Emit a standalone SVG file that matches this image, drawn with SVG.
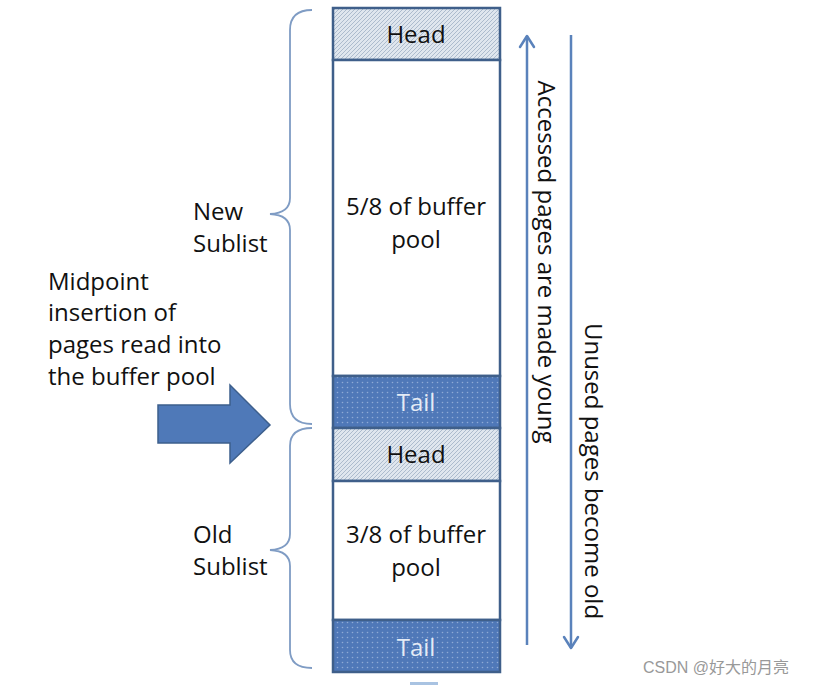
<svg xmlns="http://www.w3.org/2000/svg" width="830" height="685" viewBox="0 0 830 685">
<defs>
<pattern id="hatch" width="4" height="4" patternUnits="userSpaceOnUse">
<rect width="4" height="4" fill="#dfe6ee"/>
<path d="M-1,1 L1,-1 M0,4 L4,0 M3,5 L5,3" stroke="#9fb0c4" stroke-width="0.8"/>
</pattern>
<pattern id="dots" width="5" height="5" patternUnits="userSpaceOnUse">
<rect width="5" height="5" fill="#4f78b8"/>
<circle cx="2.5" cy="2.5" r="0.8" fill="#8eaad6"/>
</pattern>
<style>
.t{font-family:"Open Sans","Liberation Sans",sans-serif;font-size:24px;fill:#111}
.c{text-anchor:middle}
.w{fill:#e4ebf5}
.box{stroke:#3f5f8a;stroke-width:2.5}
.brace{fill:none;stroke:#7f9cc4;stroke-width:1.8}
.line{stroke:#5a82bb;stroke-width:2.5;fill:none}
.head{stroke:#5a82bb;stroke-width:2.5;fill:none;stroke-linecap:round;stroke-linejoin:round}
</style>
</defs>
<rect width="830" height="685" fill="#fff"/>
<g id="column">
<g id="head1"><rect class="box" x="333" y="8" width="167" height="52" fill="url(#hatch)"/><text class="t c" x="416" y="43">Head</text></g>
<g id="new-body"><rect class="box" x="333" y="60" width="167" height="316" fill="#fff"/><text class="t c" x="416" y="215">5/8 of buffer</text><text class="t c" x="416" y="248">pool</text></g>
<g id="tail1"><rect class="box" x="333" y="376" width="167" height="52" fill="url(#dots)"/><text class="t c w" x="416" y="411">Tail</text></g>
<g id="head2"><rect class="box" x="333" y="428" width="167" height="53" fill="url(#hatch)"/><text class="t c" x="416" y="463">Head</text></g>
<g id="old-body"><rect class="box" x="333" y="481" width="167" height="139" fill="#fff"/><text class="t c" x="416" y="543">3/8 of buffer</text><text class="t c" x="416" y="576">pool</text></g>
<g id="tail2"><rect class="box" x="333" y="620" width="167" height="52" fill="url(#dots)"/><text class="t c w" x="416" y="656">Tail</text></g>
</g>
<g id="new-sublist">
<path class="brace" d="M312,10 Q290,10 290,30 L290,198 Q290,213 270,214 Q290,215 290,230 L290,404 Q290,424 312,424"/>
<text class="t" x="193" y="220">New</text><text class="t" x="193" y="252">Sublist</text>
</g>
<g id="old-sublist">
<path class="brace" d="M312,428 Q290,428 290,446 L290,534 Q290,549 270,550 Q290,551 290,566 L290,650 Q290,668 312,668"/>
<text class="t" x="193" y="543">Old</text><text class="t" x="193" y="575">Sublist</text>
</g>
<g id="midpoint">
<text class="t" x="48" y="290">Midpoint</text>
<text class="t" x="48" y="321">insertion of</text>
<text class="t" x="48" y="353">pages read into</text>
<text class="t" x="48" y="385">the buffer pool</text>
<path d="M158,405 L230,405 L230,385 L270,425 L230,463 L230,443 L158,443 Z" fill="#4f79b8" stroke="#3d5f8c" stroke-width="1.5"/>
</g>
<g id="connectors">
<line class="line" x1="527" y1="645" x2="527" y2="36"/>
<path class="head" d="M520,47 L527,36 L534,47"/>
<line class="line" x1="571" y1="35" x2="571" y2="648"/>
<path class="head" d="M564,637 L571,648 L578,637"/>
</g>
<text class="t" transform="translate(538,262) rotate(90)" text-anchor="middle">Accessed pages are made young</text>
<text class="t" transform="translate(585,471) rotate(90)" text-anchor="middle">Unused pages become old</text>
<rect x="410" y="682" width="28" height="3" fill="#a9c3e2"/>
<text x="643" y="673" style="font-family:'Liberation Sans','Noto Sans CJK SC',sans-serif;font-size:16px;fill:#999">CSDN @好大的月亮</text>
</svg>
